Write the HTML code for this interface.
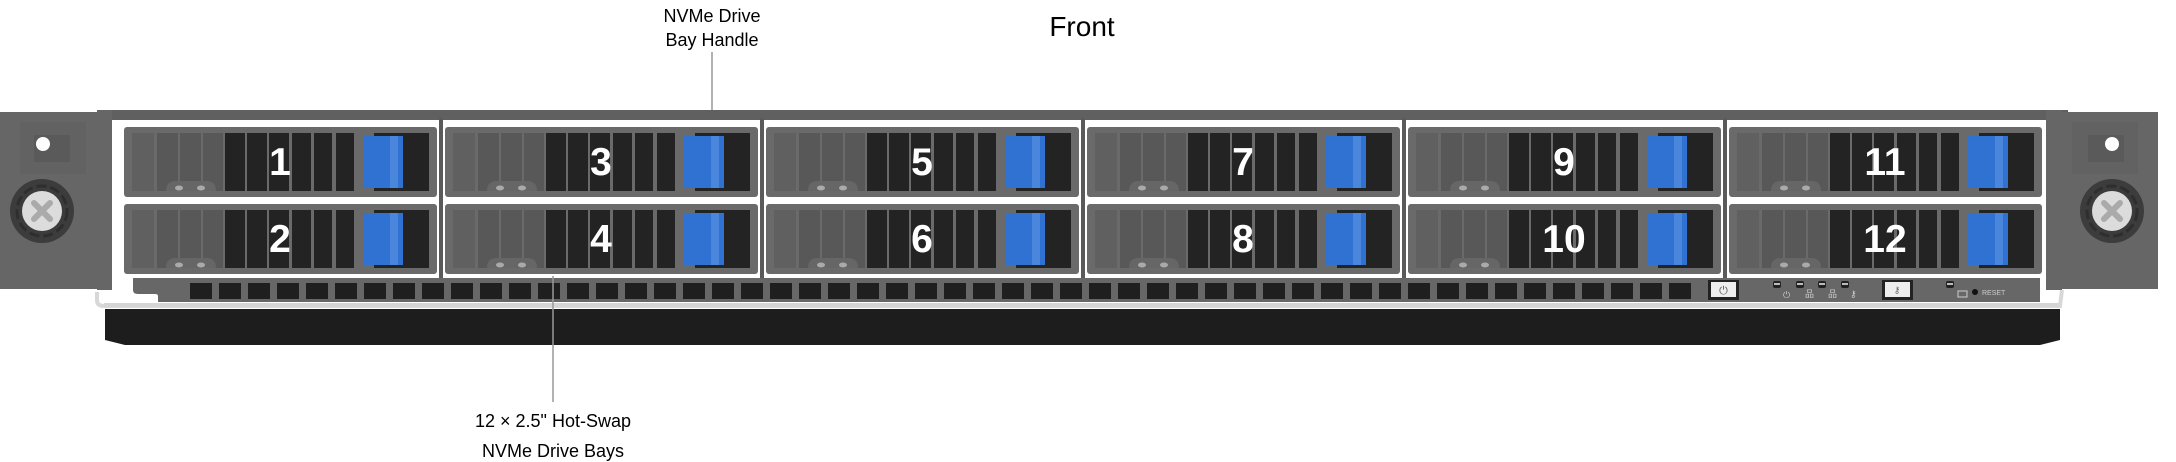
<!DOCTYPE html>
<html><head><meta charset="utf-8"><style>
html,body{margin:0;padding:0;background:#fff;}
svg{display:block;}
text{font-family:"Liberation Sans",Arial,sans-serif;}
</style></head><body>
<svg width="2176" height="462" viewBox="0 0 2176 462" xmlns="http://www.w3.org/2000/svg">
<defs>
<g id="drv">
  <rect x="0" y="0" width="313" height="70" rx="3" fill="#6a6a6a"/>
  <rect x="8" y="6" width="22" height="58" fill="#606060"/>
  <rect x="33" y="6" width="21" height="58" fill="#585858"/>
  <rect x="56" y="6" width="21" height="58" fill="#585858"/>
  <rect x="79" y="6" width="20" height="58" fill="#585858"/>
  <path d="M42 64 Q42 54 52 54 L82 54 Q92 54 92 64 Z" fill="#666"/>
  <ellipse cx="55" cy="61" rx="4" ry="2.5" fill="#aaa"/>
  <ellipse cx="77" cy="61" rx="4" ry="2.5" fill="#aaa"/>
  <rect x="101" y="6" width="20" height="58" fill="#232323"/>
  <rect x="123" y="6" width="20" height="58" fill="#232323"/>
  <rect x="145" y="6" width="20" height="58" fill="#232323"/>
  <rect x="168" y="6" width="19" height="58" fill="#232323"/>
  <rect x="190" y="6" width="18" height="58" fill="#232323"/>
  <rect x="212" y="6" width="18" height="58" fill="#232323"/>
  <rect x="250" y="6" width="55" height="58" fill="#232323"/>
  <rect x="239" y="9" width="40" height="52" fill="#2f72d2"/>
  <rect x="266" y="9" width="8" height="52" fill="#4a86dc"/>
</g>
<g id="earL">
  <rect x="0" y="0" width="111" height="177" fill="#666"/>
  <rect x="20" y="10" width="66" height="52" fill="#626262"/>
  <rect x="34" y="23" width="36" height="27" fill="#5a5a5a"/>
  <circle cx="43" cy="32" r="7" fill="#fff"/>
  <circle cx="42" cy="99" r="32" fill="#3c3c3c"/>
  <circle cx="42" cy="99" r="25" fill="none" stroke="#2e2e2e" stroke-width="3" stroke-dasharray="10 4"/>
  <circle cx="42" cy="99" r="20" fill="#dcdcdc"/>
  <path d="M34 91 L50 107 M50 91 L34 107" stroke="#aaa" stroke-width="6" stroke-linecap="round"/>
</g>
<g id="earR">
  <rect x="0" y="0" width="111" height="177" fill="#666"/>
  <rect x="25" y="10" width="66" height="52" fill="#626262"/>
  <rect x="41" y="23" width="36" height="27" fill="#5a5a5a"/>
  <circle cx="65" cy="32" r="7" fill="#fff"/>
  <circle cx="65" cy="99" r="32" fill="#3c3c3c"/>
  <circle cx="65" cy="99" r="25" fill="none" stroke="#2e2e2e" stroke-width="3" stroke-dasharray="10 4"/>
  <circle cx="65" cy="99" r="20" fill="#dcdcdc"/>
  <path d="M57 91 L73 107 M73 91 L57 107" stroke="#aaa" stroke-width="6" stroke-linecap="round"/>
</g>
</defs>

<text x="1082" y="36" font-size="28" text-anchor="middle" fill="#000">Front</text>
<text x="712" y="22" font-size="18" text-anchor="middle" fill="#000">NVMe Drive</text>
<text x="712" y="46" font-size="18" text-anchor="middle" fill="#000">Bay Handle</text>
<line x1="712" y1="52" x2="712" y2="150" stroke="#999" stroke-width="1.5"/>

<path d="M97 308 L97 112 L2068 112 L2068 290 L2047 290 L2047 303 L120 303 Q108 303 108 295 L108 296 Z" fill="#fff"/>
<path d="M97 292 L97 300 Q97 306 104 306 L2060 306 L2062 290" fill="none" stroke="#d8d8d8" stroke-width="4"/>
<rect x="97" y="110" width="1971" height="10" fill="#606060"/>
<rect x="97" y="110" width="15" height="180" fill="#666"/>
<rect x="2046" y="110" width="16" height="180" fill="#666"/>
<rect x="103" y="117" width="6" height="6" fill="#fff"/>
<rect x="2049" y="117" width="6" height="6" fill="#fff"/>

<rect x="439" y="118" width="4" height="163" fill="#5a5a5a"/>
<rect x="760" y="118" width="4" height="163" fill="#5a5a5a"/>
<rect x="1081" y="118" width="4" height="163" fill="#5a5a5a"/>
<rect x="1402" y="118" width="4" height="163" fill="#5a5a5a"/>
<rect x="1723" y="118" width="4" height="163" fill="#5a5a5a"/>

<use href="#drv" x="124" y="127"/><use href="#drv" x="124" y="204"/>
<use href="#drv" x="445" y="127"/><use href="#drv" x="445" y="204"/>
<use href="#drv" x="766" y="127"/><use href="#drv" x="766" y="204"/>
<use href="#drv" x="1087" y="127"/><use href="#drv" x="1087" y="204"/>
<use href="#drv" x="1408" y="127"/><use href="#drv" x="1408" y="204"/>
<use href="#drv" x="1729" y="127"/><use href="#drv" x="1729" y="204"/>
<g font-size="39" font-weight="bold" fill="#fff" text-anchor="middle">
<text x="280" y="175">1</text><text x="280" y="252">2</text>
<text x="601" y="175">3</text><text x="601" y="252">4</text>
<text x="922" y="175">5</text><text x="922" y="252">6</text>
<text x="1243" y="175">7</text><text x="1243" y="252">8</text>
<text x="1564" y="175">9</text><text x="1564" y="252">10</text>
<text x="1885" y="175">11</text><text x="1885" y="252">12</text>
</g>

<path d="M133 278 L2040 278 L2040 302 L158 302 L158 296 Q158 294 155 294 L138 294 Q133 294 133 290 Z" fill="#676767"/>
<g fill="#1f1f1f">
<rect x="190" y="283" width="22" height="16"/><rect x="219" y="283" width="22" height="16"/><rect x="248" y="283" width="22" height="16"/><rect x="277" y="283" width="22" height="16"/><rect x="306" y="283" width="22" height="16"/><rect x="335" y="283" width="22" height="16"/><rect x="364" y="283" width="22" height="16"/><rect x="393" y="283" width="22" height="16"/><rect x="422" y="283" width="22" height="16"/><rect x="451" y="283" width="22" height="16"/><rect x="480" y="283" width="22" height="16"/><rect x="509" y="283" width="22" height="16"/><rect x="538" y="283" width="22" height="16"/><rect x="567" y="283" width="22" height="16"/><rect x="596" y="283" width="22" height="16"/><rect x="625" y="283" width="22" height="16"/><rect x="654" y="283" width="22" height="16"/><rect x="683" y="283" width="22" height="16"/><rect x="712" y="283" width="22" height="16"/><rect x="741" y="283" width="22" height="16"/><rect x="770" y="283" width="22" height="16"/><rect x="799" y="283" width="22" height="16"/><rect x="828" y="283" width="22" height="16"/><rect x="857" y="283" width="22" height="16"/><rect x="886" y="283" width="22" height="16"/><rect x="915" y="283" width="22" height="16"/><rect x="944" y="283" width="22" height="16"/><rect x="973" y="283" width="22" height="16"/><rect x="1002" y="283" width="22" height="16"/><rect x="1031" y="283" width="22" height="16"/><rect x="1060" y="283" width="22" height="16"/><rect x="1089" y="283" width="22" height="16"/><rect x="1118" y="283" width="22" height="16"/><rect x="1147" y="283" width="22" height="16"/><rect x="1176" y="283" width="22" height="16"/><rect x="1205" y="283" width="22" height="16"/><rect x="1234" y="283" width="22" height="16"/><rect x="1263" y="283" width="22" height="16"/><rect x="1292" y="283" width="22" height="16"/><rect x="1321" y="283" width="22" height="16"/><rect x="1350" y="283" width="22" height="16"/><rect x="1379" y="283" width="22" height="16"/><rect x="1408" y="283" width="22" height="16"/><rect x="1437" y="283" width="22" height="16"/><rect x="1466" y="283" width="22" height="16"/><rect x="1495" y="283" width="22" height="16"/><rect x="1524" y="283" width="22" height="16"/><rect x="1553" y="283" width="22" height="16"/><rect x="1582" y="283" width="22" height="16"/><rect x="1611" y="283" width="22" height="16"/><rect x="1640" y="283" width="22" height="16"/><rect x="1669" y="283" width="22" height="16"/>
</g>
<rect x="1708" y="280" width="31" height="20" fill="#222"/>
<rect x="1711" y="282" width="25" height="15" fill="#eee"/>
<text x="1723.5" y="294" font-size="11" text-anchor="middle" fill="#555">⏻</text>
<g fill="#222"><rect x="1773" y="281" width="8" height="7" rx="2"/><rect x="1796" y="281" width="8" height="7" rx="2"/><rect x="1818" y="281" width="8" height="7" rx="2"/><rect x="1841" y="281" width="8" height="7" rx="2"/><rect x="1946" y="281" width="8" height="7" rx="2"/></g>
<g fill="#bbb"><rect x="1774" y="283" width="6" height="2"/><rect x="1797" y="283" width="6" height="2"/><rect x="1819" y="283" width="6" height="2"/><rect x="1842" y="283" width="6" height="2"/><rect x="1947" y="283" width="6" height="2"/></g>
<g font-size="9" fill="#ccc"><text x="1783" y="298">⏻</text><text x="1805" y="297">品</text><text x="1828" y="297">品</text><text x="1850" y="297">⚷</text></g>
<rect x="1882" y="280" width="31" height="20" fill="#222"/>
<rect x="1885" y="282" width="25" height="15" fill="#eee"/>
<text x="1897" y="293" font-size="9" text-anchor="middle" fill="#666">⚷</text>
<rect x="1958" y="291" width="9" height="6" fill="none" stroke="#ccc" stroke-width="1"/>
<circle cx="1975" cy="292" r="3" fill="#111"/>
<text x="1982" y="295" font-size="7" fill="#ccc">RESET</text>

<rect x="104" y="303" width="1955" height="4" fill="#d5d5d5"/>
<path d="M105 309 L2060 309 L2060 340 L2040 345 L125 345 L105 340 Z" fill="#1d1d1d"/>

<use href="#earL" x="0" y="112"/>
<use href="#earR" x="2047" y="112"/>

<line x1="553" y1="276" x2="553" y2="402" stroke="#999" stroke-width="1.5"/>
<text x="553" y="427" font-size="18" text-anchor="middle" fill="#000">12 × 2.5" Hot-Swap</text>
<text x="553" y="457" font-size="18" text-anchor="middle" fill="#000">NVMe Drive Bays</text>
</svg>
</body></html>
